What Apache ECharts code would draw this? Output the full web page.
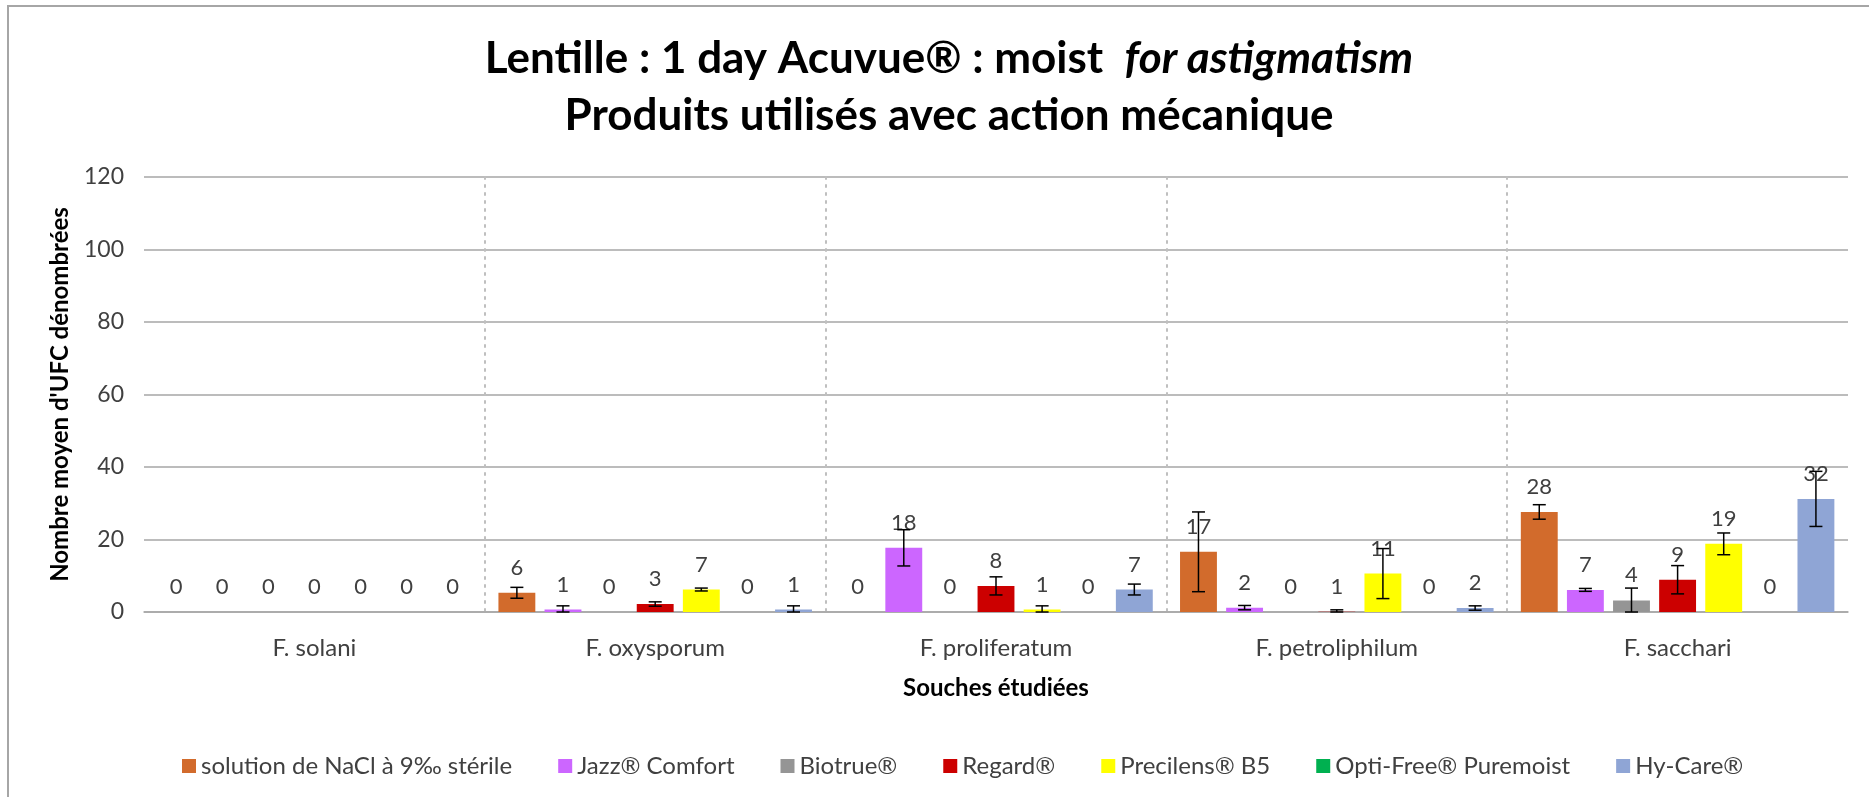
<!DOCTYPE html>
<html>
<head>
<meta charset="utf-8">
<title>Lentille 1 day Acuvue moist for astigmatism</title>
<script src="https://cdn.jsdelivr.net/npm/echarts@6/dist/echarts.min.js"></script>
<style>
  html, body { margin: 0; padding: 0; background: #fff; }
  #chart { width: 1869px; height: 797px; }
</style>
</head>
<body>
<div id="chart"></div>
<script>
const souches = ["F. solani", "F. oxysporum", "F. proliferatum", "F. petroliphilum", "F. sacchari"];

const produits = [
  "solution de NaCl à 9‰ stérile",
  "Jazz® Comfort",
  "Biotrue®",
  "Regard®",
  "Precilens® B5",
  "Opti-Free® Puremoist",
  "Hy-Care®",
];

const nacl = [0, 5.3, 0, 16.6, 27.6];
const jazz = [0, 0.7, 17.7, 1.2, 6.1];
const biotrue = [0, 0, 0, 0, 3.2];
const regard = [0, 2.2, 7.2, 0.1, 8.9];
const precilens = [0, 6.2, 0.7, 10.6, 18.8];
const optiFree = [0, 0, 0, 0, 0];
const hyCare = [0, 0.7, 6.2, 1.1, 31.2];

// écarts (barres d'erreur +/-)
const naclErr = [0, 1.5, 0, 11, 2];
const jazzErr = [0, 1.0, 5.0, 0.6, 0.4];
const biotrueErr = [0, 0, 0, 0, 3.4];
const regardErr = [0, 0.6, 2.5, 0.5, 3.9];
const precilensErr = [0, 0.4, 1.0, 6.9, 3];
const optiFreeErr = [0, 0, 0, 0, 0];
const hyCareErr = [0, 1.0, 1.5, 0.6, 7.6];

const yTicks = [0, 20, 40, 60, 80, 100, 120];

const valeurs = [nacl, jazz, biotrue, regard, precilens, optiFree, hyCare];
const erreurs = [naclErr, jazzErr, biotrueErr, regardErr, precilensErr, optiFreeErr, hyCareErr];
const couleurs = ["#D26B2C", "#CC66FF", "#959595", "#CC0000", "#FFFF00", "#00B050", "#8FA5D5"];

const FONT = "Lato, 'Open Sans', sans-serif";
const TXT = "#404040";
const CAT_GAP = 0.08;
const BAR_GAP = 0.25;
const n = produits.length;

const errData = [];
erreurs.forEach((arr, s) => {
  arr.forEach((e, c) => {
    if (e > 0) {
      const v = valeurs[s][c];
      errData.push([c, s, Math.max(0, v - e), v + e]);
    }
  });
});

const barSeries = produits.map((nom, i) => ({
  name: nom,
  type: "bar",
  data: valeurs[i],
  barGap: BAR_GAP * 100 + "%",
  barCategoryGap: CAT_GAP * 100 + "%",
  itemStyle: { color: couleurs[i] },
  label: {
    show: true,
    position: "top",
    distance: 14,
    fontFamily: FONT,
    fontSize: 22,
    color: TXT,
    formatter: (p) => Math.ceil(p.value),
  },
}));

const errSeries = {
  name: "erreur",
  type: "custom",
  z: 5,
  silent: true,
  data: errData,
  encode: { x: 0, y: [2, 3] },
  renderItem: (params, api) => {
    const cat = api.value(0);
    const s = api.value(1);
    const lo = api.coord([cat, api.value(2)]);
    const hi = api.coord([cat, api.value(3)]);
    const band = api.size([1, 0])[0];
    const w = (band * (1 - CAT_GAP)) / (n + (n - 1) * BAR_GAP);
    const x = lo[0] + (s - (n - 1) / 2) * w * (1 + BAR_GAP);
    const cap = 6.5;
    const st = { stroke: "#000", lineWidth: 1.5 };
    return {
      type: "group",
      children: [
        { type: "line", shape: { x1: x, y1: lo[1], x2: x, y2: hi[1] }, style: st },
        { type: "line", shape: { x1: x - cap, y1: hi[1], x2: x + cap, y2: hi[1] }, style: st },
        { type: "line", shape: { x1: x - cap, y1: lo[1], x2: x + cap, y2: lo[1] }, style: st },
      ],
    };
  },
};

const chart = echarts.init(document.getElementById("chart"));

chart.setOption({
  backgroundColor: "#fff",
  animation: false,
  graphic: [
    {
      type: "rect",
      z: -10,
      shape: { x: 8, y: 6, width: 1900, height: 900 },
      style: { fill: "none", stroke: "#a6a6a6", lineWidth: 2 },
    },
  ],
  title: {
    left: 944,
    top: 25,
    textAlign: "center",
    text: "{b|Lentille : 1 day Acuvue® : moist  }{bi|for astigmatism}\n{b|Produits utilisés avec action mécanique}",
    textStyle: {
      rich: {
        b: { fontFamily: FONT, fontSize: 44, fontWeight: "bold", color: "#000", lineHeight: 57 },
        bi: { fontFamily: FONT, fontSize: 44, fontWeight: "bold", fontStyle: "italic", color: "#000", lineHeight: 57 },
      },
    },
  },
  legend: {
    data: produits,
    left: 177,
    top: 749,
    icon: "rect",
    itemWidth: 14,
    itemHeight: 14,
    itemGap: 46,
    textStyle: { fontFamily: FONT, fontSize: 24, color: TXT },
  },
  grid: { left: 144, right: 21, top: 177, bottom: 185 },
  xAxis: {
    type: "category",
    data: souches,
    name: "Souches étudiées",
    nameLocation: "middle",
    nameGap: 64,
    nameTextStyle: { fontFamily: FONT, fontSize: 24, fontWeight: "bold", color: "#000" },
    axisTick: { show: false },
    axisLine: { lineStyle: { color: "#a6a6a6", width: 1.5 } },
    axisLabel: { margin: 24, fontFamily: FONT, fontSize: 24, color: TXT },
    splitLine: {
      show: true,
      showMinLine: false,
      showMaxLine: false,
      lineStyle: { color: "#bfbfbf", width: 2, type: [2, 6], cap: "round" },
    },
  },
  yAxis: {
    type: "value",
    min: yTicks[0],
    max: yTicks[yTicks.length - 1],
    interval: yTicks[1] - yTicks[0],
    name: "Nombre moyen d'UFC dénombrées",
    nameLocation: "middle",
    nameGap: 72,
    nameTextStyle: { fontFamily: FONT, fontSize: 24, fontWeight: "bold", color: "#000" },
    axisLine: { show: false },
    axisTick: { show: false },
    axisLabel: { margin: 20, fontFamily: FONT, fontSize: 23, color: TXT },
    splitLine: { lineStyle: { color: "#a6a6a6", width: 1.5 } },
  },
  series: [...barSeries, errSeries],
});
</script>
</body>
</html>
